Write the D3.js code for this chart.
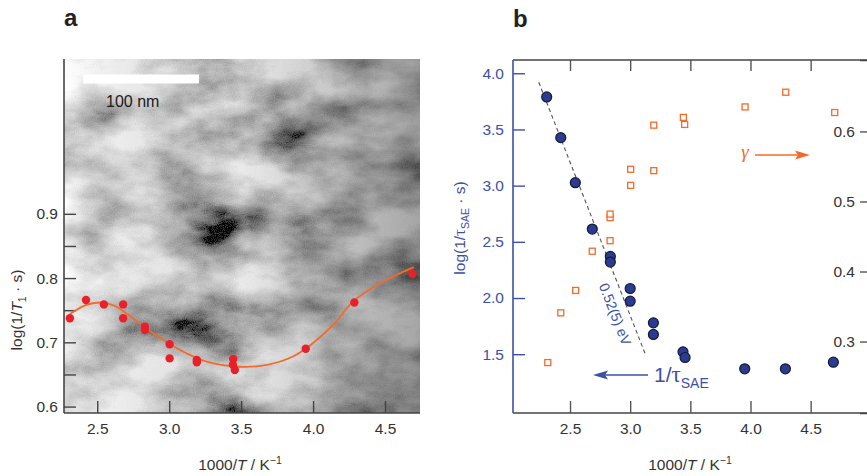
<!DOCTYPE html>
<html>
<head>
<meta charset="utf-8">
<script src="https://cdn.jsdelivr.net/npm/d3@7"></script>
<style>
  body { margin: 0; background: #fff; }
  svg { display: block; font-family: "Liberation Sans", Arial, sans-serif; }
  .tick text { font-size: 15.5px; }
</style>
</head>
<body>
<script>
// panel a: 1/T1 vs 1000/T, with fit curve
const aX = [2.31, 2.422, 2.546, 2.68, 2.68, 2.831, 2.831, 3.003, 3.003, 3.192, 3.192, 3.445, 3.443, 3.456, 3.949, 4.287, 4.69];
const aY = [0.7375, 0.766, 0.759, 0.759, 0.7375, 0.7245, 0.719, 0.697, 0.675, 0.6726, 0.669, 0.674, 0.665, 0.657, 0.69, 0.762, 0.8065];
const fitX = [2.31, 2.42, 2.52, 2.62, 2.75, 2.84, 2.98, 3.12, 3.26, 3.49, 3.68, 3.86, 4.0, 4.14, 4.28, 4.49, 4.70];
const fitY = [0.744, 0.758, 0.762, 0.757, 0.737, 0.722, 0.701, 0.683, 0.670, 0.662, 0.665, 0.678, 0.699, 0.727, 0.764, 0.795, 0.817];
const aXTicks = [2.5, 3.0, 3.5, 4.0, 4.5];
const aYTicks = [0.6, 0.65, 0.7, 0.75, 0.8, 0.85, 0.9];

// panel b: 1/tau_SAE (left axis) and gamma (right axis)
const tauX = [2.306, 2.423, 2.544, 2.685, 2.835, 2.835, 3.0, 3.0, 3.193, 3.193, 3.439, 3.456, 3.952, 4.29, 4.689];
const tauY = [3.789, 3.427, 3.026, 2.614, 2.37, 2.32, 2.085, 1.972, 1.779, 1.676, 1.521, 1.471, 1.37, 1.37, 1.429];
const gamX = [2.315, 2.423, 2.547, 2.685, 2.833, 2.833, 2.833, 3.004, 3.004, 3.196, 3.196, 3.442, 3.453, 3.955, 4.293, 4.70];
const gamY = [0.270, 0.341, 0.373, 0.429, 0.444, 0.477, 0.482, 0.523, 0.546, 0.544, 0.609, 0.620, 0.610, 0.635, 0.656, 0.627];
const arrX = [2.24, 3.129];   // 0.52(5) eV Arrhenius line
const arrY = [3.92, 1.492];
const bXTicks = [2.5, 3.0, 3.5, 4.0, 4.5];
const bYTicks = [1.5, 2.0, 2.5, 3.0, 3.5, 4.0];
const rYTicks = [0.3, 0.4, 0.5, 0.6];

const W = 867, H = 476;
const blue = "#3b50a8", orange = "#f26b2a", red = "#e8202a", dark = "#333";
const serif = "'Liberation Serif', 'Times New Roman', serif";

const svg = d3.select("body").append("svg")
    .attr("width", W)
    .attr("height", H);

// TEM micrograph stand-in: grey fractal noise with fine grain
const defs = svg.append("defs");
const f = defs.append("filter").attr("id", "tem")
    .attr("x", 0).attr("y", 0).attr("width", 1).attr("height", 1);
f.append("feTurbulence").attr("type", "fractalNoise")
    .attr("baseFrequency", "0.012 0.02").attr("numOctaves", 5).attr("seed", 11).attr("result", "n1");
f.append("feColorMatrix").attr("in", "n1").attr("type", "matrix")
    .attr("values", "1.8 0 0 0 -0.28  1.8 0 0 0 -0.28  1.8 0 0 0 -0.28  0 0 0 0 1").attr("result", "g1");
f.append("feTurbulence").attr("type", "fractalNoise")
    .attr("baseFrequency", "0.9").attr("numOctaves", 1).attr("seed", 2).attr("result", "n2");
f.append("feColorMatrix").attr("in", "n2").attr("type", "matrix")
    .attr("values", "1 0 0 0 0  1 0 0 0 0  1 0 0 0 0  0 0 0 0 1").attr("result", "g2");
f.append("feComposite").attr("in", "g1").attr("in2", "g2").attr("operator", "arithmetic")
    .attr("k1", 0).attr("k2", 1).attr("k3", 0.24).attr("k4", -0.12);

const grad = defs.append("linearGradient").attr("id", "shade")
    .attr("x1", 0).attr("x2", 1).attr("y1", 0).attr("y2", 0);
grad.append("stop").attr("offset", 0).attr("stop-color", "#fff").attr("stop-opacity", 0.3);
grad.append("stop").attr("offset", 0.5).attr("stop-color", "#000").attr("stop-opacity", 0.08);
grad.append("stop").attr("offset", 1).attr("stop-color", "#000").attr("stop-opacity", 0.35);

// ---------- panel a ----------
const xa = d3.scaleLinear().domain([2.269, 4.743]).range([64, 420]);
const ya = d3.scaleLinear().domain([0.59, 1.141]).range([413, 59]);

svg.append("rect").attr("x", 64).attr("y", 59).attr("width", 356).attr("height", 354)
    .attr("fill", "#999").attr("filter", "url(#tem)");
svg.append("rect").attr("x", 64).attr("y", 59).attr("width", 356).attr("height", 354)
    .attr("fill", "url(#shade)");

// scale bar
svg.append("rect").attr("x", 83).attr("y", 74.5).attr("width", 116).attr("height", 9).attr("fill", "#fff");
svg.append("text").attr("x", 106).attr("y", 107).attr("font-size", 16).attr("fill", "#1a1a1a").text("100 nm");

svg.append("text").attr("x", 64).attr("y", 26).attr("font-size", 24).attr("font-weight", "bold")
    .attr("fill", "#222").text("a");

const axA = svg.append("g").attr("transform", "translate(64,0)")
    .call(d3.axisLeft(ya).tickValues(aYTicks).tickSize(-12).tickPadding(6)
        .tickFormat(d => (Math.round(d * 100) % 10 === 0 ? d3.format(".1f")(d) : "")));
const bxA = svg.append("g").attr("transform", "translate(0,413)")
    .call(d3.axisBottom(xa).tickValues(aXTicks).tickSize(-12).tickPadding(10).tickFormat(d3.format(".1f")));
[axA, bxA].forEach(g => {
  g.select(".domain").attr("stroke", "#444").attr("stroke-width", 1.6);
  g.selectAll(".tick line").attr("stroke", "#444").attr("stroke-width", 1.4);
  g.selectAll(".tick text").attr("fill", dark);
});
axA.select(".domain").attr("d", "M0,59V413");
bxA.select(".domain").attr("d", "M64,0H420");

svg.append("path")
    .datum(d3.zip(fitX, fitY))
    .attr("fill", "none").attr("stroke", orange).attr("stroke-width", 1.8)
    .attr("d", d3.line().x(d => xa(d[0])).y(d => ya(d[1])).curve(d3.curveCatmullRom));

svg.append("g").selectAll("circle")
    .data(d3.zip(aX, aY))
    .enter().append("circle")
    .attr("cx", d => xa(d[0])).attr("cy", d => ya(d[1])).attr("r", 4.2)
    .attr("fill", red);

const ta = svg.append("text").attr("transform", "translate(22,310) rotate(-90)")
    .attr("text-anchor", "middle").attr("font-size", 15.5).attr("fill", dark);
ta.append("tspan").text("log(1/");
ta.append("tspan").attr("font-style", "italic").text("T");
ta.append("tspan").attr("font-size", 10.5).attr("dy", 4).text("1");
ta.append("tspan").attr("dy", -4).text(" · s)");

const xta = svg.append("text").attr("x", 240).attr("y", 470)
    .attr("text-anchor", "middle").attr("font-size", 15.5).attr("fill", dark);
xta.append("tspan").text("1000/");
xta.append("tspan").attr("font-style", "italic").text("T");
xta.append("tspan").text(" / K");
xta.append("tspan").attr("font-size", 10.5).attr("dy", -6).text("−1");

// ---------- panel b ----------
const xb = d3.scaleLinear().domain([2.026, 5.01]).range([513, 872]);
const yb = d3.scaleLinear().domain([0.977, 4.118]).range([413, 60]);
const yr = d3.scaleLinear().domain([0.198, 0.702]).range([413, 60]);

svg.append("text").attr("x", 513).attr("y", 27).attr("font-size", 24).attr("font-weight", "bold")
    .attr("fill", "#222").text("b");

const topB = svg.append("g").attr("transform", "translate(0,60)")
    .call(d3.axisTop(xb).tickValues(bXTicks).tickSize(-11).tickFormat(""));
const botB = svg.append("g").attr("transform", "translate(0,413)")
    .call(d3.axisBottom(xb).tickValues(bXTicks).tickSize(-12).tickPadding(10).tickFormat(d3.format(".1f")));
const leftB = svg.append("g").attr("transform", "translate(513,0)")
    .call(d3.axisLeft(yb).tickValues(bYTicks).tickSize(-12).tickPadding(9).tickFormat(d3.format(".1f")));
const rightB = svg.append("g").attr("transform", "translate(872,0)")
    .call(d3.axisLeft(yr).tickValues(rYTicks).tickSize(12).tickPadding(5).tickFormat(d3.format(".1f")));
[topB, botB, rightB].forEach(g => {
  g.select(".domain").attr("stroke", "#444").attr("stroke-width", 1.6);
  g.selectAll(".tick line").attr("stroke", "#555").attr("stroke-width", 1.4);
  g.selectAll(".tick text").attr("fill", dark);
});
topB.select(".domain").attr("d", "M513,0H872");
botB.select(".domain").attr("d", "M513,0H872");
leftB.select(".domain").attr("stroke", blue).attr("stroke-width", 1.6).attr("d", "M0,60V413");
leftB.selectAll(".tick line").attr("stroke", blue).attr("stroke-width", 1.4);
leftB.selectAll(".tick text").attr("fill", blue);

// Arrhenius line
svg.append("line")
    .attr("x1", xb(arrX[0])).attr("y1", yb(arrY[0]))
    .attr("x2", xb(arrX[1])).attr("y2", yb(arrY[1]))
    .attr("stroke", "#555").attr("stroke-width", 1.1).attr("stroke-dasharray", "4,3");

const ang = Math.atan2(yb(arrY[1]) - yb(arrY[0]), xb(arrX[1]) - xb(arrX[0])) * 180 / Math.PI;
svg.append("text")
    .attr("transform", `translate(${xb(2.97) - 16},${yb(1.84)}) rotate(${ang})`)
    .attr("text-anchor", "middle").attr("font-size", 14).attr("fill", blue)
    .text("0.52(5) eV");

// gamma squares
svg.append("g").selectAll("rect")
    .data(d3.zip(gamX, gamY))
    .enter().append("rect")
    .attr("x", d => xb(d[0]) - 3).attr("y", d => yr(d[1]) - 3)
    .attr("width", 6).attr("height", 6)
    .attr("fill", "#fff").attr("stroke", orange).attr("stroke-width", 1.3);

// 1/tau points
svg.append("g").selectAll("circle")
    .data(d3.zip(tauX, tauY))
    .enter().append("circle")
    .attr("cx", d => xb(d[0])).attr("cy", d => yb(d[1])).attr("r", 5)
    .attr("fill", "#2b3b8f").attr("stroke", "#161a3a").attr("stroke-width", 1.2);

// series labels with arrows
svg.append("line").attr("x1", 648).attr("y1", 375).attr("x2", 604).attr("y2", 375)
    .attr("stroke", blue).attr("stroke-width", 1.6);
svg.append("path").attr("d", "M593,375 L608,370.5 L605,375 L608,379.5 Z").attr("fill", blue);
const tl = svg.append("text").attr("x", 654).attr("y", 382).attr("fill", blue).attr("font-size", 21);
tl.append("tspan").text("1/");
tl.append("tspan").attr("font-family", serif).attr("font-size", 23).text("τ");
tl.append("tspan").attr("font-size", 14).attr("dy", 6).text("SAE");

svg.append("text").attr("x", 745).attr("y", 158).attr("text-anchor", "middle")
    .attr("font-family", serif).attr("font-style", "italic")
    .attr("font-size", 19).attr("fill", orange).text("γ");
svg.append("line").attr("x1", 755).attr("y1", 155).attr("x2", 800).attr("y2", 155)
    .attr("stroke", orange).attr("stroke-width", 1.6);
svg.append("path").attr("d", "M810,155 L795,150.5 L798,155 L795,159.5 Z").attr("fill", orange);

const tb = svg.append("text").attr("transform", "translate(465,228) rotate(-90)")
    .attr("text-anchor", "middle").attr("font-size", 15.5).attr("fill", blue);
tb.append("tspan").text("log(1/");
tb.append("tspan").attr("font-family", serif).attr("font-size", 17).text("τ");
tb.append("tspan").attr("font-size", 10.5).attr("dy", 4).text("SAE");
tb.append("tspan").attr("dy", -4).text(" · s)");

const xtb = svg.append("text").attr("x", 690).attr("y", 470)
    .attr("text-anchor", "middle").attr("font-size", 15.5).attr("fill", dark);
xtb.append("tspan").text("1000/");
xtb.append("tspan").attr("font-style", "italic").text("T");
xtb.append("tspan").text(" / K");
xtb.append("tspan").attr("font-size", 10.5).attr("dy", -6).text("−1");
</script>
</body>
</html>
